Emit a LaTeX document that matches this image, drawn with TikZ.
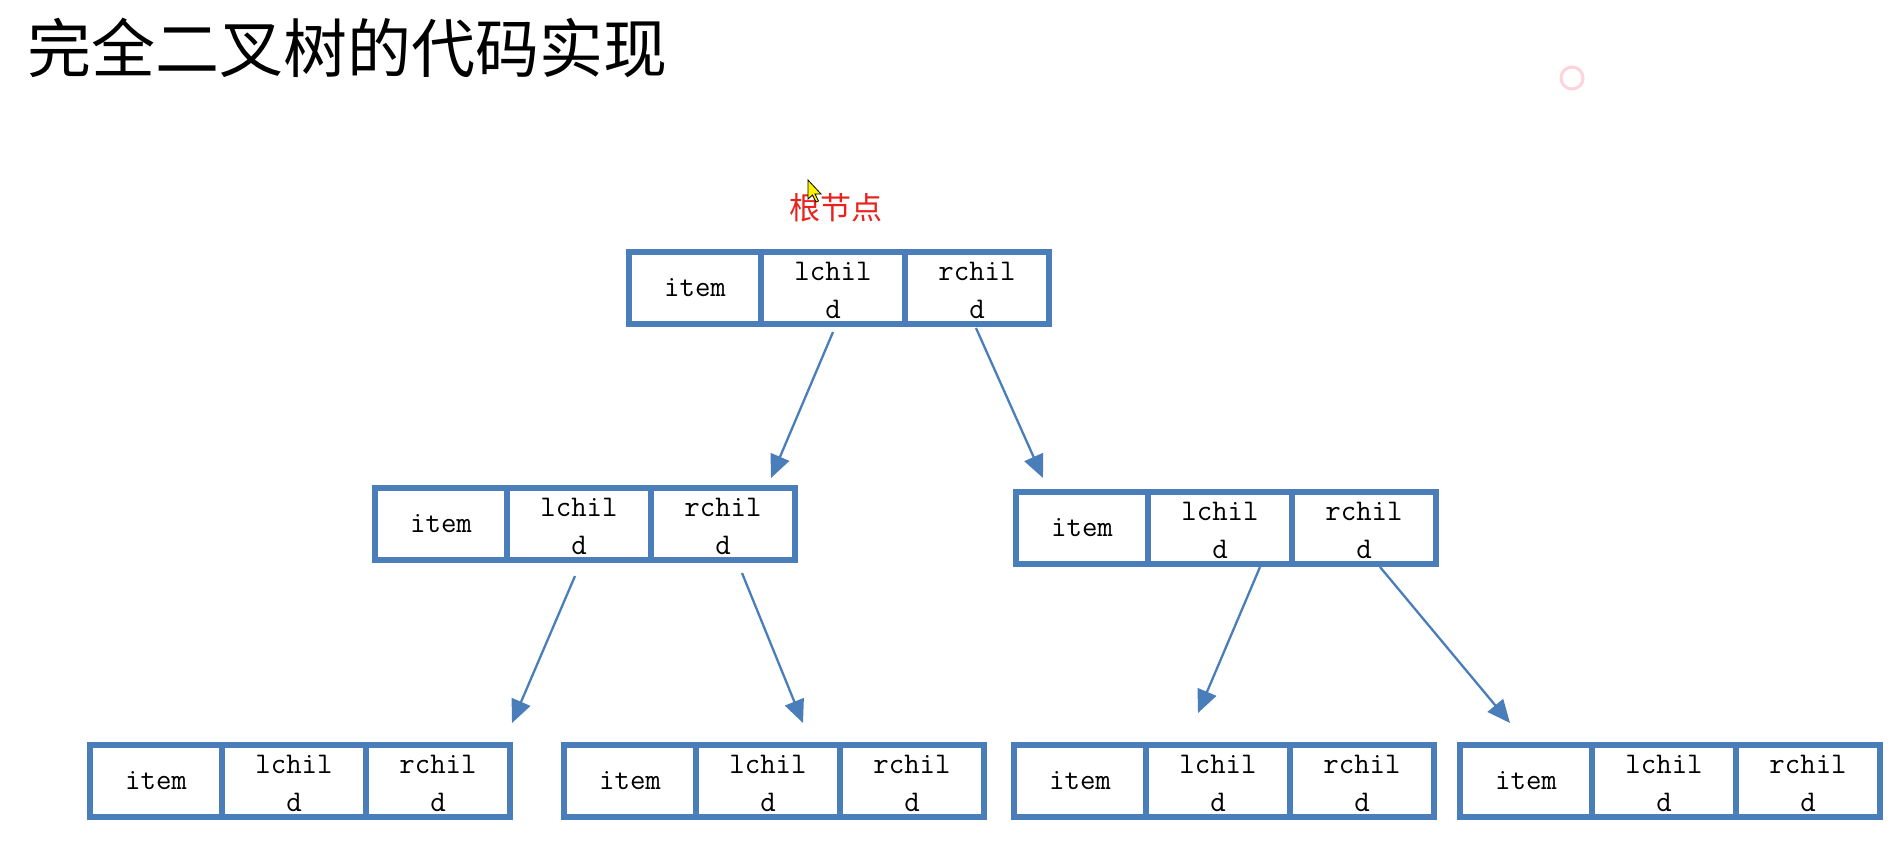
\documentclass[tikz,border=0pt]{standalone}
\usepackage{fontspec}
\newfontfamily\cjk{Noto Sans CJK SC}
\usetikzlibrary{arrows.meta}
\definecolor{boxblue}{HTML}{4A7EBB}
\definecolor{arrblue}{HTML}{4A7EBB}
\definecolor{labred}{HTML}{E8231E}
\definecolor{ringpink}{HTML}{FFD3DB}
\newcommand\treebox[3]{%
  \node[narrowcell] (#1a) at (#2+3,#3+3) {\raisebox{-2pt}{item}};
  \node[widecell] (#1b) at (#1a.north east) {\rule{0pt}{11.2pt}lchil\\d};
  \node[widecell] (#1c) at (#1b.north east) {\rule{0pt}{11.2pt}rchil\\d};
}
\begin{document}
\begin{tikzpicture}[x=0.5pt,y=-0.5pt,
  cell/.style={draw=boxblue, line width=3pt, fill=white, inner sep=0pt, outer sep=0pt,
    minimum height=36pt, anchor=north west, align=center,
    font=\ttfamily\fontsize{15}{19}\selectfont},
  narrowcell/.style={cell, minimum width=66pt},
  widecell/.style={cell, minimum width=72pt},
  link/.style={draw=arrblue, line width=1.15pt, -{Triangle[length=11.5pt,width=10pt]}}]
\fill[white] (0,0) rectangle (1899,843);
\useasboundingbox (0,0) rectangle (1899,843);

% title
\node[anchor=west, inner sep=0pt, font=\cjk\fontsize{32}{38}\selectfont] (title) at (27,48) {完全二叉树的代码实现};

% faint ring (screen artifact)
\draw[ringpink, line width=1.5pt] (1572,78) circle[radius=11];

% root label
\node[inner sep=0pt, text=labred, font=\cjk\fontsize{15.5}{18}\selectfont] (rootlabel) at (836,208) {根节点};

% boxes
\treebox{r}{626}{249}
\treebox{l}{372}{485}
\treebox{m}{1013}{489}
\treebox{p}{87}{742}
\treebox{q}{561}{742}
\treebox{u}{1011}{742}
\treebox{v}{1457}{742}

% connector ends
\coordinate (s1) at (833,332); \coordinate (t1) at (771,478);
\coordinate (s2) at (976,328); \coordinate (t2) at (1043,478);
\coordinate (s3) at (575,576); \coordinate (t3) at (512,723);
\coordinate (s4) at (742,573); \coordinate (t4) at (803,723);
\coordinate (s5) at (1260,567); \coordinate (t5) at (1198,713);
\coordinate (s6) at (1380,567); \coordinate (t6) at (1510,723);

\draw[link] (s1) -- (t1);
\draw[link] (s2) -- (t2);
\draw[link] (s3) -- (t3);
\draw[link] (s4) -- (t4);
\draw[link] (s5) -- (t5);
\draw[link] (s6) -- (t6);

% mouse cursor (screen artifact)
\filldraw[fill=yellow, draw=black, line width=0.4pt, shift={(808,180)}]
  (0,0) -- (0,19) -- (4.5,15) -- (8,22) -- (10.5,21) -- (7,14) -- (13,14) -- cycle;
\end{tikzpicture}
\end{document}
